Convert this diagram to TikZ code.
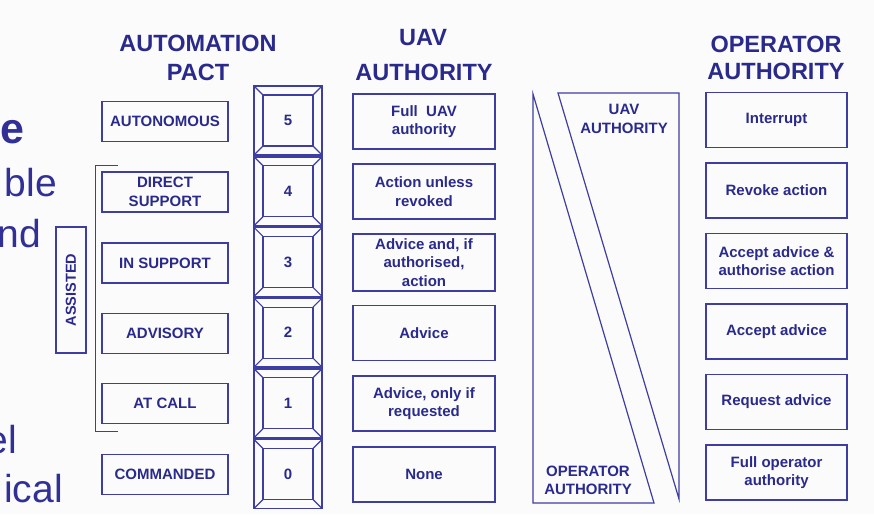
\documentclass[tikz,border=0pt]{standalone}
\usepackage{fontspec}
\setmainfont{Liberation Sans}
\definecolor{ink}{RGB}{42,42,140}
\definecolor{rulecol}{RGB}{62,62,162}
\definecolor{slideink}{RGB}{48,48,150}
\definecolor{paper}{RGB}{251,251,251}
\begin{document}
\begin{tikzpicture}[x=1pt,y=-1pt,
  box/.style={draw=rulecol, line width=1.5pt, text=ink, align=center,
    inner sep=0pt, font=\bfseries\fontsize{15}{18.5}\selectfont},
  levelbox/.style={box, minimum width=126pt, minimum height=40pt},
  uavbox/.style={box, minimum width=142pt, minimum height=55pt},
  opbox/.style={box, minimum width=141pt, minimum height=55pt},
  header/.style={text=ink, inner sep=0pt, font=\bfseries\fontsize{23.5}{27}\selectfont},
  wedgelabel/.style={text=ink, inner sep=0pt, align=center, font=\bfseries\fontsize{15}{19}\selectfont},
  levelnum/.style={text=ink, inner sep=0pt, font=\bfseries\fontsize{15}{18}\selectfont},
  slidetext/.style={text=slideink, inner sep=0pt, anchor=base east, font=\fontsize{39}{44}\selectfont},
  ladder/.style={draw=rulecol, line width=1.8pt},
  ladderin/.style={draw=rulecol, line width=1.2pt}
]
\useasboundingbox (0,0) rectangle (874,514);
\fill[paper] (0,0) rectangle (874,514);
\clip (0,0) rectangle (874,514);

% slide text running off the left edge
\node[slidetext, font=\bfseries\fontsize{43}{48}\selectfont] (s1) at (25,143) {e};
\node[slidetext] (s2) at (57,196) {ble};
\node[slidetext] (s3) at (41,247) {nd};
\node[slidetext] (s4) at (17,453) {el};
\node[slidetext] (s5) at (63,502) {ical};

% column headings
\node[header] (hA1) at (198,43.5) {AUTOMATION};
\node[header] (hA2) at (198,72) {PACT};
\node[header] (hU1) at (423,38) {UAV};
\node[header] (hU2) at (424,72) {AUTHORITY};
\node[header] (hO1) at (776,44.5) {OPERATOR};
\node[header] (hO2) at (776,71.5) {AUTHORITY};

% levels of automation
\node[levelbox] (l5) at (165,121.5) {AUTONOMOUS};
\node[levelbox] (l4) at (165,192) {DIRECT\\SUPPORT};
\node[levelbox] (l3) at (165,263) {IN SUPPORT};
\node[levelbox] (l2) at (165,333.5) {ADVISORY};
\node[levelbox] (l1) at (165,403.5) {AT CALL};
\node[levelbox] (l0) at (165,474.5) {COMMANDED};

% bracket grouping the assisted levels
\draw[rulecol, line width=1pt] (118,165) -- (95,165) -- (95,431) -- (118,431);
\node[box, line width=1.4pt, minimum width=30pt, minimum height=126pt] (asst) at (71,290) {};
\node[text=ink, rotate=90, inner sep=0pt, font=\bfseries\fontsize{14.5}{16}\selectfont] (asstxt) at (asst.center) {ASSISTED};

% bevelled ladder of level numbers
\foreach \n [count=\i from 0] in {5,4,3,2,1,0} {
  \pgfmathsetmacro{\top}{86+\i*70.7}
  \pgfmathsetmacro{\bot}{\top+69}
  \draw[ladder] (254,\top) rectangle (322,\bot);
  \draw[ladderin] (263,\top+9) rectangle (313,\bot-9);
  \draw[ladderin] (254,\top) -- (263,\top+9)
                  (322,\top) -- (313,\top+9)
                  (254,\bot) -- (263,\bot-9)
                  (322,\bot) -- (313,\bot-9);
  \node[levelnum] (n\n) at (288,\top+34.5) {\n};
}

% UAV authority
\node[uavbox] (u5) at (424,121.5) {Full\ \ UAV\\authority};
\node[uavbox] (u4) at (424,191.5) {Action unless\\revoked};
\node[uavbox, minimum height=57pt] (u3) at (424,262.5) {Advice and, if\\authorised,\\action};
\node[uavbox] (u2) at (424,333) {Advice};
\node[uavbox] (u1) at (424,403.5) {Advice, only if\\requested};
\node[uavbox] (u0) at (424,474.5) {None};

% sharing of authority between UAV and operator
\draw[rulecol, line width=1.2pt] (533,94) -- (533,503) -- (654,503) -- cycle;
\draw[rulecol, line width=1.2pt] (558,93) -- (679,93) -- (679,499) -- cycle;
\node[wedgelabel] (wu) at (624,119) {UAV\\AUTHORITY};
\node[wedgelabel, font=\bfseries\fontsize{15}{18}\selectfont] (wo) at (588,480) {OPERATOR\\AUTHORITY};

% operator authority
\node[opbox] (o5) at (776.5,120) {Interrupt};
\node[opbox] (o4) at (776.5,190.5) {Revoke action};
\node[opbox] (o3) at (776.5,261) {Accept advice \&\\authorise action};
\node[opbox] (o2) at (776.5,331.5) {Accept advice};
\node[opbox] (o1) at (776.5,402) {Request advice};
\node[opbox] (o0) at (776.5,472.5) {Full operator\\authority};
\end{tikzpicture}
\end{document}
